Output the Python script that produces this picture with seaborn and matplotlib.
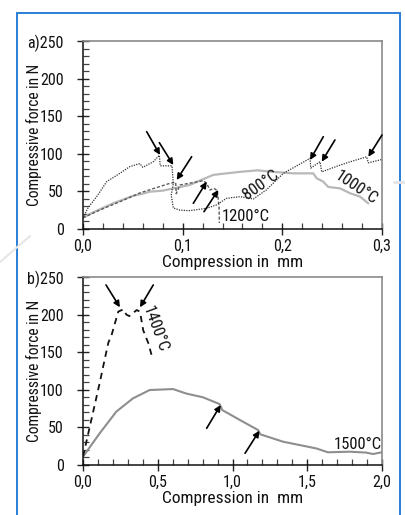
import matplotlib
matplotlib.use("Agg")
import matplotlib.pyplot as plt
import seaborn as sns
import pandas as pd
from matplotlib.patches import Rectangle
from matplotlib.ticker import MultipleLocator, FixedLocator
from matplotlib import font_manager

# ---------------- data: panel a ----------------
x_800 = [0.0, 0.005, 0.0137, 0.0238, 0.037, 0.047, 0.057, 0.060, 0.0706, 0.0766, 0.0775,
         0.0893, 0.0906, 0.0885, 0.0906, 0.0973, 0.107, 0.124, 0.134, 0.144, 0.1575, 0.171,
         0.184, 0.201, 0.2278, 0.2285, 0.2378, 0.2395, 0.258, 0.272, 0.2846, 0.2863, 0.300]
y_800 = [15, 28, 43, 63, 74, 83, 87, 82, 89.5, 98, 84,
         84, 60, 45, 28, 25, 24.4, 27.5, 32, 40.8, 43, 40,
         52, 74, 94, 81, 89.5, 76, 85, 91, 96, 88, 92.5]

x_1000 = [0.0, 0.01, 0.02, 0.03, 0.04, 0.05, 0.06, 0.067, 0.08, 0.0906, 0.107, 0.12, 0.1308,
          0.1575, 0.175, 0.191, 0.211, 0.231, 0.2345, 0.241, 0.246, 0.258, 0.268, 0.278, 0.2863]
y_1000 = [15, 22, 28, 34, 39, 44, 47, 49.6, 51, 54, 58.5, 66, 72,
          76, 78, 76, 74, 74, 67.4, 63, 56, 54, 47.5, 43, 34]

x_1200 = [0.0, 0.02, 0.04, 0.0572, 0.0873, 0.093, 0.0935, 0.0973, 0.1207, 0.124, 0.1274,
          0.1314, 0.1348, 0.1365, 0.1368]
y_1200 = [15, 27, 38, 48, 60.8, 62, 47, 58.5, 64.3, 60.8, 51.9,
          54, 51, 30, 8]

# arrows panel a: (tail_x, tail_y, head_x, head_y)
arrows_a_tail_x = [0.0639, 0.0766, 0.109, 0.1107, 0.1214, 0.2411, 0.2528, 0.300]
arrows_a_tail_y = [129.4, 114.8, 96.1, 34.2, 23.0, 122.7, 118.4, 125.0]
arrows_a_head_x = [0.0773, 0.0906, 0.094, 0.1241, 0.1358, 0.2278, 0.2395, 0.2863]
arrows_a_head_y = [98.4, 85.1, 65.2, 62.9, 51.9, 91.8, 89.5, 96.1]

# ---------------- data: panel b ----------------
x_1400 = [0.0, 0.05, 0.111, 0.15, 0.17, 0.19, 0.236, 0.27, 0.29, 0.31, 0.359, 0.381,
          0.403, 0.437, 0.459]
y_1400 = [11, 55, 108.6, 145, 163, 172, 204, 207, 200, 198, 206, 204,
          179, 162, 146]

x_1500 = [0.0, 0.111, 0.223, 0.334, 0.446, 0.602, 0.691, 0.803, 0.914, 0.932, 1.048,
          1.171, 1.186, 1.338, 1.561, 1.639, 1.784, 1.895, 1.94, 2.0]
y_1500 = [11, 42, 71, 88.6, 99.7, 101, 95, 90, 81, 73, 60,
          46.5, 40.8, 31, 22, 16.9, 17.7, 16.5, 14.6, 17]

arrows_b_tail_x = [0.154, 0.470, 0.827, 1.084]
arrows_b_tail_y = [239.4, 239.4, 48.8, 15.6]
arrows_b_head_x = [0.247, 0.381, 0.921, 1.180]
arrows_b_head_y = [209.7, 209.7, 79.8, 45.6]

y_ticks = [0, 50, 100, 150, 200, 250]
y_labels_a = ["0", "50", "100", "150", "200", "a)250"]
y_labels_b = ["0", "50", "100", "150", "200", "b)250"]
x_ticks_a = [0.0, 0.1, 0.2, 0.3]
x_labels_a = ["0,0", "0,1", "0,2", "0,3"]
x_ticks_b = [0.0, 0.5, 1.0, 1.5, 2.0]
x_labels_b = ["0,0", "0,5", "1,0", "1,5", "2,0"]

# ---------------- styling ----------------
sns.set_theme(style="white")
available = {f.name for f in font_manager.fontManager.ttflist}
families = [f for f in ["Roboto Condensed", "Liberation Sans Narrow", "Roboto", "DejaVu Sans"]
            if f in available]
plt.rcParams["font.family"] = families
plt.rcParams["axes.unicode_minus"] = False
narrow = families[0] in ("Roboto Condensed", "Liberation Sans Narrow")

W, H = 406, 515
fig = plt.figure(figsize=(W / 100, H / 100), dpi=100)
fig.patch.set_facecolor("white")

ax_a = fig.add_axes([83 / W, 1 - 229 / H, (382 - 83) / W, (229 - 41) / H])
ax_b = fig.add_axes([83 / W, 1 - 465 / H, (382 - 83) / W, (465 - 277) / H])

# blue frame
fig.add_artist(Rectangle((17 / W, -0.05), (400 - 17) / W, 1 - 13 / H + 0.05,
                         transform=fig.transFigure, fill=False,
                         edgecolor="#2a7fd4", linewidth=1.4, zorder=0))
# faint watermark strokes
fig.add_artist(plt.Line2D([0 / W, 30 / W], [1 - 262 / H, 1 - 236 / H],
                          transform=fig.transFigure, color="#e6e6e6", lw=1.5, zorder=0))
fig.add_artist(plt.Line2D([394 / W, 406 / W], [1 - 182 / H, 1 - 182 / H],
                          transform=fig.transFigure, color="#e3e3e3", lw=2, zorder=0))

def lp(ax, xs, ys, **kw):
    df = pd.DataFrame({"x": xs, "y": ys})
    sns.lineplot(data=df, x="x", y="y", ax=ax, sort=False, estimator=None, **kw)

lp(ax_a, x_1000, y_1000, color="#b8b8b8", linewidth=1.6)
lp(ax_a, x_1200, y_1200, color="#5a5a5a", linewidth=1.0, linestyle=(0, (2.2, 1.4)))
lp(ax_a, x_800, y_800, color="#333333", linewidth=0.9, linestyle=(0, (1, 1)))

lp(ax_b, x_1500, y_1500, color="#8e8e8e", linewidth=1.5)
lp(ax_b, x_1400, y_1400, color="#111111", linewidth=1.3, linestyle=(0, (3.5, 2.8)))

for tx, ty, hx, hy in zip(arrows_a_tail_x, arrows_a_tail_y, arrows_a_head_x, arrows_a_head_y):
    ax_a.annotate("", xy=(hx, hy), xytext=(tx, ty),
                  arrowprops=dict(arrowstyle="-|>", color="black", lw=1.2,
                                  mutation_scale=9, shrinkA=0, shrinkB=0), annotation_clip=False)
for tx, ty, hx, hy in zip(arrows_b_tail_x, arrows_b_tail_y, arrows_b_head_x, arrows_b_head_y):
    ax_b.annotate("", xy=(hx, hy), xytext=(tx, ty),
                  arrowprops=dict(arrowstyle="-|>", color="black", lw=1.2,
                                  mutation_scale=9, shrinkA=0, shrinkB=0), annotation_clip=False)

if narrow:
    fs_tick, fs_xlab, fs_ylab, fs_ann = 11.5, 12.5, 11.2, 12
else:
    fs_tick, fs_xlab, fs_ylab, fs_ann = 10, 11, 10, 10.5

ax_a.text(0.1783, 58.5, "800°C", rotation=35, ha="center", va="center", fontsize=fs_ann,
          rotation_mode="anchor", color="#111111")
ax_a.text(0.2739, 55.4, "1000°C", rotation=-34, ha="center", va="center", fontsize=fs_ann,
          rotation_mode="anchor", color="#111111")
ax_a.text(0.139, 16.4, "1200°C", ha="left", va="center", fontsize=fs_ann, color="#111111")
ax_b.text(0.4816, 180.9, "1400°C", rotation=-70, ha="center", va="center", fontsize=fs_ann,
          rotation_mode="anchor", color="#111111")
ax_b.text(1.674, 26.6, "1500°C", ha="left", va="center", fontsize=fs_ann, color="#111111")

for ax, xt, xl, yl, xmax, xminor in [(ax_a, x_ticks_a, x_labels_a, y_labels_a, 0.3, 0.02),
                                      (ax_b, x_ticks_b, x_labels_b, y_labels_b, 2.0, 0.1)]:
    ax.set_xlim(0, xmax)
    ax.set_ylim(0, 250)
    ax.set_facecolor("white")
    ax.grid(False)
    ax.xaxis.set_major_locator(FixedLocator(xt))
    ax.set_xticklabels(xl)
    ax.xaxis.set_minor_locator(MultipleLocator(xminor))
    ax.yaxis.set_major_locator(FixedLocator(y_ticks))
    ax.set_yticklabels(yl)
    ax.yaxis.set_minor_locator(MultipleLocator(10))
    ax.tick_params(axis="both", which="major", direction="inout", length=8, width=1,
                   color="#222222", labelsize=fs_tick, labelcolor="#111111",
                   bottom=True, left=True, top=False, right=False)
    ax.tick_params(axis="y", which="major", pad=10)
    ax.tick_params(axis="x", which="major", pad=3)
    ax.tick_params(axis="both", which="minor", direction="in", length=4, width=0.9,
                   color="#444444", bottom=True, left=True, top=False, right=False)
    for s in ["left", "bottom"]:
        ax.spines[s].set_color("#111111")
        ax.spines[s].set_linewidth(1.1)
        ax.spines[s].set_visible(True)
    for s in ["top", "right"]:
        ax.spines[s].set_color("#8a8a8a")
        ax.spines[s].set_linewidth(1.2)
        ax.spines[s].set_visible(True)
    ax.set_xlabel("Compression in  mm", fontsize=fs_xlab, color="#111111")
    ax.set_ylabel("Compressive force in N", fontsize=fs_ylab, color="#111111")
    ax.xaxis.set_label_coords(0.5, -26 / 188)
    ax.yaxis.set_label_coords(-41 / 299, 0.5)

fig.savefig("out.png", dpi=100, facecolor="white")
